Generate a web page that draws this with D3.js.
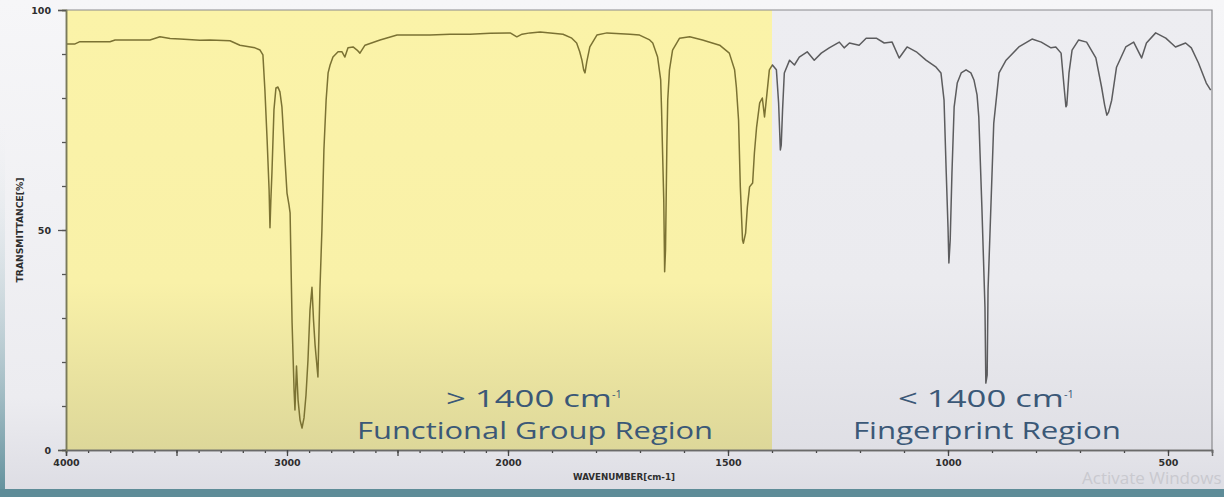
<!DOCTYPE html>
<html>
<head>
<meta charset="utf-8">
<script src="https://cdn.jsdelivr.net/npm/d3@7"></script>
<style>
  html, body { margin: 0; padding: 0; background: #eeeef1; }
  svg { display: block; }
</style>
</head>
<body>
<svg id="chart" width="1224" height="497"></svg>
<script>
// IR spectrum of a terminal alkene, wavenumber (cm-1) vs. transmittance (%)
const wavenumber = [
  4000, 3959, 3937, 3801, 3778, 3620, 3575, 3529, 3484, 3394, 3348, 3258, 3213, 3145, 3122, 3109,
  3100, 3090, 3081, 3077, 3073, 3068, 3059, 3050, 3041, 3032, 3023, 3009, 3000, 2991, 2986, 2977,
  2968, 2964, 2957, 2950, 2941, 2932, 2923, 2914, 2905, 2896, 2887, 2880, 2873, 2869, 2860, 2851,
  2842, 2833, 2823, 2814, 2805, 2792, 2769, 2751, 2738, 2724, 2701, 2683, 2670, 2647, 2579, 2502,
  2353, 2262, 2172, 2081, 2000, 1995, 1980, 1968, 1950, 1927, 1875, 1855, 1844, 1837, 1832, 1828,
  1825, 1821, 1814, 1798, 1775, 1723, 1701, 1678, 1671, 1660, 1653, 1651, 1649, 1646, 1644, 1642,
  1639, 1637, 1633, 1626, 1610, 1587, 1558, 1519, 1497, 1485, 1481, 1476, 1472, 1467, 1465, 1460,
  1456, 1451, 1444, 1440, 1435, 1428, 1422, 1417, 1413, 1406, 1399, 1390, 1385, 1381, 1379, 1376,
  1372, 1360, 1349, 1338, 1320, 1304, 1288, 1270, 1247, 1236, 1224, 1202, 1186, 1163, 1145, 1127,
  1111, 1093, 1072, 1050, 1027, 1016, 1009, 1004, 1000, 998, 995, 991, 986, 979, 970, 959,
  948, 941, 934, 930, 923, 916, 914, 911, 909, 902, 896, 884, 868, 839, 809, 788,
  766, 755, 743, 737, 732, 730, 725, 718, 703, 685, 664, 651, 644, 639, 635, 628,
  617, 596, 578, 560, 549, 528, 505, 483, 460, 447, 431, 413, 403
];
const transmittance = [
  92.3, 92.3, 92.8, 92.8, 93.2, 93.2, 93.9, 93.5, 93.4, 93.1, 93.2, 93.0, 92.0, 91.4, 90.9, 89.8,
  81.8, 70.5, 59.1, 50.5, 56.8, 63.2, 77.3, 82.3, 82.5, 81.4, 78.0, 65.9, 58.4, 55.7, 53.9, 28.9,
  13.6, 9.1, 19.1, 11.4, 6.8, 5.0, 7.3, 12.5, 20.5, 31.8, 37.0, 29.5, 23.9, 21.6, 16.6, 36.4,
  50.0, 68.2, 79.5, 85.7, 87.5, 89.3, 90.5, 90.5, 89.3, 91.4, 91.6, 90.9, 90.2, 92.0, 93.2, 94.3,
  94.3, 94.5, 94.5, 94.7, 94.8, 94.8, 93.9, 94.5, 94.8, 95.0, 94.5, 93.6, 92.5, 90.5, 88.6, 86.4,
  85.7, 88.2, 91.6, 94.3, 94.8, 94.5, 94.3, 93.2, 92.5, 89.3, 84.1, 77.3, 68.9, 56.8, 40.5, 45.5,
  68.9, 79.5, 86.4, 90.9, 93.6, 93.9, 93.2, 92.0, 90.2, 86.4, 82.5, 75.0, 59.8, 47.7, 47.0, 49.3,
  55.2, 59.8, 60.7, 67.5, 73.4, 78.9, 80.0, 75.7, 79.5, 86.4, 87.5, 86.4, 78.9, 68.2, 69.3, 77.3,
  85.7, 88.6, 87.5, 89.3, 90.5, 88.6, 90.2, 91.4, 92.7, 91.4, 92.5, 92.0, 93.6, 93.6, 92.5, 92.7,
  89.1, 91.6, 90.5, 88.6, 87.0, 85.7, 79.5, 63.0, 50.7, 42.5, 47.7, 63.0, 78.0, 83.4, 85.7, 86.4,
  85.7, 84.1, 80.7, 75.7, 55.2, 32.5, 15.2, 17.0, 36.4, 56.8, 74.3, 85.7, 88.6, 91.6, 93.4, 92.7,
  91.4, 91.6, 90.2, 83.4, 78.0, 78.4, 85.7, 90.9, 93.2, 92.7, 89.1, 82.5, 78.4, 76.1, 76.8, 79.5,
  87.0, 91.6, 92.7, 89.1, 92.5, 94.8, 93.6, 91.6, 92.5, 91.4, 88.0, 83.4, 81.8
];

// axis ticks and labels
const xLabelTicks = [4000, 3000, 2000, 1500, 1000, 500];
const xMajorTicks = [4000, 3500, 3000, 2500, 2000, 1500, 1000, 500];
const xMinorTicks = d3.range(4000, 399, -100);
const yLabelTicks = [0, 50, 100];
const yMinorTicks = d3.range(0, 101, 10);

// the two spectral regions and their captions
const regionCaptions = [
  { range: [4000, 1400], line1: "> 1400 cm", line2: "Functional Group Region" },
  { range: [1400, 400],  line1: "< 1400 cm", line2: "Fingerprint Region" }
];

const svg = d3.select("#chart");
const W = 1224, H = 497;

// wavenumber axis is expanded two-fold below 2000 cm-1
const x = d3.scaleLinear().domain([4000, 2000, 400]).range([66, 508, 1212]);
const y = d3.scaleLinear().domain([0, 100]).range([450, 10]);

const defs = svg.append("defs");

function vGrad(id, stops) {
  const g = defs.append("linearGradient").attr("id", id)
    .attr("x1", 0).attr("y1", 0).attr("x2", 0).attr("y2", 1);
  stops.forEach(s => g.append("stop").attr("offset", s[0]).attr("stop-color", s[1])
    .attr("stop-opacity", s[2] === undefined ? 1 : s[2]));
}
vGrad("pageGrad", [["0%", "#f6f6f8"], ["80%", "#ececf0"], ["100%", "#dcdce3"]]);
vGrad("yellowGrad", [["0%", "#fbf3a8"], ["62%", "#f9f1a8"], ["100%", "#ddd799"]]);
vGrad("greyGrad", [["0%", "#ededf1"], ["62%", "#ebebef"], ["100%", "#dfdfe5"]]);
vGrad("leftGrad", [["0%", "#eef1f3", 0], ["100%", "#5f8f9b"]]);

// page background
svg.append("rect").attr("width", W).attr("height", H).attr("fill", "url(#pageGrad)");
svg.append("rect").attr("x", 0).attr("y", 120).attr("width", 5).attr("height", H - 120)
  .attr("fill", "url(#leftGrad)");
svg.append("rect").attr("x", 0).attr("y", 489).attr("width", W).attr("height", H - 489)
  .attr("fill", "#5e8c98");

// region shading
const fills = ["url(#yellowGrad)", "url(#greyGrad)"];
svg.selectAll("rect.region").data(regionCaptions).join("rect")
  .attr("class", "region")
  .attr("x", d => x(d.range[0]))
  .attr("y", y(100))
  .attr("width", d => x(d.range[1]) - x(d.range[0]))
  .attr("height", y(0) - y(100))
  .attr("fill", (d, i) => fills[i]);

// frame (top and right)
svg.append("path")
  .attr("d", `M${x(4000)},${y(100)}H${x(400)}V${y(0)}`)
  .attr("fill", "none").attr("stroke", "#8a8a8e").attr("stroke-width", 1.2);

// clip paths so the trace takes the tint of each region
regionCaptions.forEach((d, i) => {
  defs.append("clipPath").attr("id", "clip" + i).append("rect")
    .attr("x", x(d.range[0])).attr("y", 0)
    .attr("width", x(d.range[1]) - x(d.range[0])).attr("height", H);
});

const points = wavenumber.map((w, i) => [w, transmittance[i]]);
const line = d3.line().x(d => x(d[0])).y(d => y(d[1]));
const traceColors = ["#7b7233", "#5c5c5e"];
traceColors.forEach((c, i) => {
  svg.append("path")
    .datum(points)
    .attr("clip-path", `url(#clip${i})`)
    .attr("d", line)
    .attr("fill", "none")
    .attr("stroke", c)
    .attr("stroke-width", 1.5)
    .attr("stroke-linejoin", "round");
});

// x axis
const fmtX = d => xLabelTicks.includes(d) ? String(d) : "";
const xAxisMinor = d3.axisBottom(x).tickValues(xMinorTicks).tickSize(3).tickFormat("");
const xAxisMajor = d3.axisBottom(x).tickValues(xMajorTicks).tickSize(6).tickFormat(fmtX).tickPadding(3);
const gxm = svg.append("g").attr("transform", `translate(0,${y(0)})`).call(xAxisMinor);
const gx = svg.append("g").attr("transform", `translate(0,${y(0)})`).call(xAxisMajor);
[gxm, gx].forEach(g => {
  g.select(".domain").attr("stroke", "#6a6a6a").attr("stroke-width", 1.5);
  g.selectAll(".tick line").attr("stroke", "#444").attr("stroke-width", 1.3);
});
gx.selectAll(".tick text")
  .attr("fill", "#2e2e2e")
  .style("font-family", "'DejaVu Sans', sans-serif")
  .style("font-size", "9.5px")
  .style("font-weight", "bold");

// y axis
const fmtY = d => yLabelTicks.includes(d) ? String(d) : "";
const yAxisMinor = d3.axisLeft(y).tickValues(yMinorTicks).tickSize(4).tickFormat("");
const yAxisMajor = d3.axisLeft(y).tickValues(yLabelTicks).tickSize(8).tickFormat(fmtY).tickPadding(7);
const gym = svg.append("g").attr("transform", `translate(${x(4000)},0)`).call(yAxisMinor);
const gy = svg.append("g").attr("transform", `translate(${x(4000)},0)`).call(yAxisMajor);
[gym, gy].forEach(g => {
  g.select(".domain").attr("stroke", "#7a7a5a").attr("stroke-width", 1.5);
  g.selectAll(".tick line").attr("stroke", "#555").attr("stroke-width", 1.3);
});
gy.selectAll(".tick text")
  .attr("fill", "#2e2e2e")
  .style("font-family", "'DejaVu Sans', sans-serif")
  .style("font-size", "9.5px")
  .style("font-weight", "bold");

// axis titles
svg.append("text")
  .attr("x", (x(2000) + x(1500)) / 2 + 6)
  .attr("y", 480)
  .attr("text-anchor", "middle")
  .attr("fill", "#2e2e2e")
  .style("font-family", "'DejaVu Sans Condensed', 'DejaVu Sans', sans-serif")
  .style("font-size", "8px")
  .style("font-weight", "bold")
  .attr("textLength", 102)
  .attr("lengthAdjust", "spacingAndGlyphs")
  .text("WAVENUMBER[cm-1]");

svg.append("text")
  .attr("transform", `translate(23,${y(50)}) rotate(-90)`)
  .attr("text-anchor", "middle")
  .attr("fill", "#2e2e2e")
  .style("font-family", "'DejaVu Sans Condensed', 'DejaVu Sans', sans-serif")
  .style("font-size", "8px")
  .style("font-weight", "bold")
  .attr("textLength", 105)
  .attr("lengthAdjust", "spacingAndGlyphs")
  .text("TRANSMITTANCE[%]");

// region captions
const capCx = [535, 987];
const capWidth1 = [166, 166];
const capWidth2 = [356, 268];
const captionStyle = t => t
  .attr("fill", "#3b5877")
  .style("font-family", "'Open Sans', sans-serif")
  .style("font-size", "23px");

const captions = svg.selectAll("g.caption").data(regionCaptions).join("g").attr("class", "caption");
captions.append("text")
  .attr("x", (d, i) => capCx[i] - 6)
  .attr("y", 407)
  .attr("text-anchor", "middle")
  .call(captionStyle)
  .attr("textLength", (d, i) => capWidth1[i])
  .attr("lengthAdjust", "spacingAndGlyphs")
  .text(d => d.line1);
captions.append("text")
  .attr("x", (d, i) => capCx[i] + 77)
  .attr("y", 398)
  .call(captionStyle)
  .style("font-size", "11px")
  .text("-1");
captions.append("text")
  .attr("x", (d, i) => capCx[i])
  .attr("y", 439)
  .attr("text-anchor", "middle")
  .call(captionStyle)
  .attr("textLength", (d, i) => capWidth2[i])
  .attr("lengthAdjust", "spacingAndGlyphs")
  .text(d => d.line2);

// system watermark in the lower right corner
svg.append("text")
  .attr("x", 1082)
  .attr("y", 484)
  .attr("fill", "#c9c9cf")
  .style("font-family", "'Open Sans', sans-serif")
  .style("font-size", "17px")
  .text("Activate Windows");
</script>
</body>
</html>
